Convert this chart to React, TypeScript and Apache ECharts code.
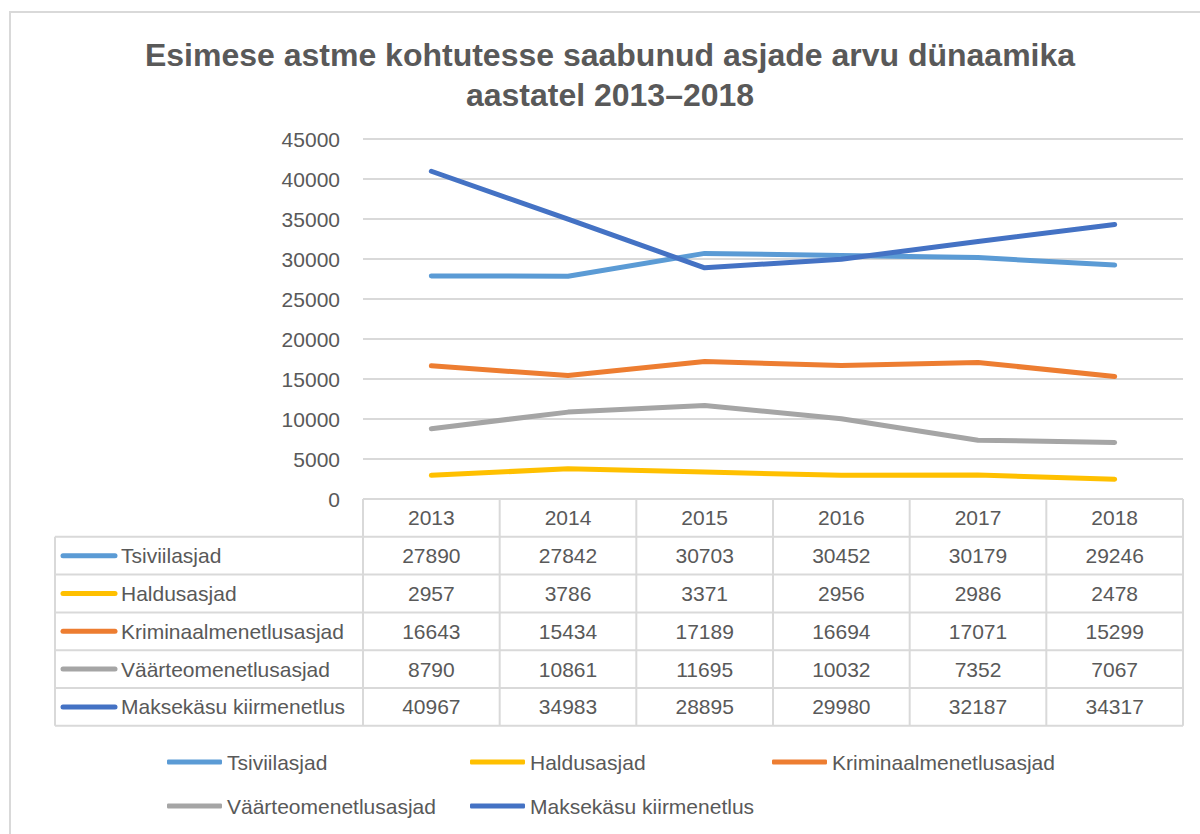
import React, { useEffect, useRef } from "react";
import * as echarts from "echarts";

const years = ["2013", "2014", "2015", "2016", "2017", "2018"];
const seriesNames = [
  "Tsiviilasjad",
  "Haldusasjad",
  "Kriminaalmenetlusasjad",
  "Väärteomenetlusasjad",
  "Maksekäsu kiirmenetlus",
];
const tsiviilasjad = [27890, 27842, 30703, 30452, 30179, 29246];
const haldusasjad = [2957, 3786, 3371, 2956, 2986, 2478];
const kriminaal = [16643, 15434, 17189, 16694, 17071, 15299];
const vaarteo = [8790, 10861, 11695, 10032, 7352, 7067];
const maksekasu = [40967, 34983, 28895, 29980, 32187, 34317];
const seriesData = [tsiviilasjad, haldusasjad, kriminaal, vaarteo, maksekasu];
const colors = ["#5B9BD5", "#FFC000", "#ED7D31", "#A5A5A5", "#4472C4"];
const titleText = "Esimese astme kohtutesse saabunud asjade arvu dünaamika\naastatel 2013–2018";

const W = 1200;
const H = 834;
const GRID_LEFT = 363;
const GRID_RIGHT = 1183;
const GRID_TOP = 139;
const GRID_BOTTOM = 499;
const TABLE_LEFT = 55;
const ROW_H = 37.8;
const TEXT = "#595959";
const BORDER = "#d9d9d9";
const FONT = "'Liberation Sans', Arial, sans-serif";

export default function App() {
  const ref = useRef<HTMLDivElement>(null);
  useEffect(() => {
    if (!ref.current) return;
    const chart = echarts.init(ref.current, undefined, { renderer: "svg" });
    const colW = (GRID_RIGHT - GRID_LEFT) / years.length;
    const tableBottom = GRID_BOTTOM + ROW_H * (seriesNames.length + 1);
    const graphics: any[] = [];
    graphics.push({
      type: "rect",
      shape: { x: 10, y: 12, width: W + 20, height: H + 20 },
      style: { fill: "none", stroke: BORDER, lineWidth: 2 },
      silent: true,
    });
    const line = (x1: number, y1: number, x2: number, y2: number) =>
      graphics.push({
        type: "line",
        shape: { x1, y1, x2, y2 },
        style: { stroke: BORDER, lineWidth: 2 },
        silent: true,
      });
    line(GRID_LEFT, GRID_BOTTOM, GRID_RIGHT, GRID_BOTTOM);
    for (let r = 1; r <= seriesNames.length + 1; r++) {
      const y = GRID_BOTTOM + ROW_H * r;
      line(TABLE_LEFT, y, GRID_RIGHT, y);
    }
    line(TABLE_LEFT, GRID_BOTTOM + ROW_H, TABLE_LEFT, tableBottom);
    for (let c = 0; c <= years.length; c++) {
      const x = GRID_LEFT + colW * c;
      line(x, GRID_BOTTOM, x, tableBottom);
    }
    seriesNames.forEach((name, i) => {
      const cy = GRID_BOTTOM + ROW_H * (i + 1) + ROW_H / 2;
      graphics.push({
        type: "line",
        shape: { x1: 63, y1: cy, x2: 115, y2: cy },
        style: { stroke: colors[i], lineWidth: 5, lineCap: "round" },
        silent: true,
      });
      graphics.push({
        type: "text",
        x: 121,
        y: cy,
        style: {
          text: name,
          fill: TEXT,
          font: `21px ${FONT}`,
          textAlign: "left",
          textVerticalAlign: "middle",
        },
        silent: true,
      });
      seriesData[i].forEach((v, j) => {
        graphics.push({
          type: "text",
          x: GRID_LEFT + colW * j + colW / 2,
          y: cy,
          style: {
            text: String(v),
            fill: TEXT,
            font: `21px ${FONT}`,
            textAlign: "center",
            textVerticalAlign: "middle",
          },
          silent: true,
        });
      });
    });

    const legendPos = [
      [167, 751],
      [470, 751],
      [772, 751],
      [167, 795],
      [470, 795],
    ];
    const legends = seriesNames.map((name, i) => ({
      data: [name],
      left: legendPos[i][0],
      top: legendPos[i][1],
      icon: "roundRect",
      itemWidth: 55,
      itemHeight: 5,
      padding: 0,
      selectedMode: false,
      textStyle: { color: TEXT, fontSize: 21, fontFamily: FONT, lineHeight: 22 },
    }));

    chart.setOption({
      animation: false,
      color: colors,
      title: {
        text: titleText,
        left: 605,
        textAlign: "center",
        top: 30,
        textStyle: {
          color: TEXT,
          fontSize: 32,
          fontWeight: "bold",
          fontFamily: FONT,
          lineHeight: 40,
        },
      },
      legend: legends,
      grid: {
        left: GRID_LEFT,
        right: W - GRID_RIGHT,
        top: GRID_TOP,
        bottom: H - GRID_BOTTOM,
        containLabel: false,
      },
      xAxis: {
        type: "category",
        data: years,
        boundaryGap: true,
        axisLine: { show: false },
        axisTick: { show: false },
        axisLabel: { color: TEXT, fontSize: 21, fontFamily: FONT, margin: 8 },
      },
      yAxis: {
        type: "value",
        min: 0,
        max: 45000,
        interval: 5000,
        axisLine: { show: false },
        axisTick: { show: false },
        axisLabel: {
          color: TEXT,
          fontSize: 21,
          fontFamily: FONT,
          margin: 23,
          formatter: (v: number) => String(v),
        },
        splitLine: { lineStyle: { color: BORDER, width: 2 } },
      },
      series: seriesNames.map((name, i) => ({
        name,
        type: "line",
        data: seriesData[i],
        symbol: "none",
        lineStyle: { width: 5, color: colors[i], cap: "round", join: "round" },
        itemStyle: { color: colors[i] },
      })),
      graphic: graphics,
    });
    return () => chart.dispose();
  }, []);
  return (
    <div
      ref={ref}
      style={{ position: "fixed", left: 0, top: 0, width: W, height: H, background: "#fff" }}
    />
  );
}
